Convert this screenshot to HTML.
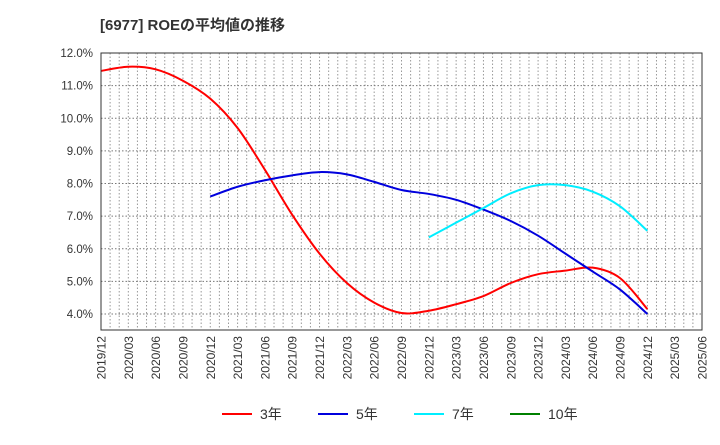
<!DOCTYPE html>
<html><head><meta charset="utf-8"><style>
body{margin:0;background:#fff;font-family:"Liberation Sans","Noto Sans CJK JP",sans-serif}
</style></head><body>
<svg width="720" height="440" xmlns="http://www.w3.org/2000/svg" font-family="Liberation Sans, Noto Sans CJK JP, sans-serif">
<text x="100" y="30" font-size="15" font-weight="bold" fill="#333">[6977]  ROEの平均値の推移</text>
<g id="grid"></g><g id="series"></g><g id="axes"></g>
<g id="legend"></g>
</svg>
<script>
const xLabels=["2019/12","2020/03","2020/06","2020/09","2020/12","2021/03","2021/06","2021/09","2021/12","2022/03","2022/06","2022/09","2022/12","2023/03","2023/06","2023/09","2023/12","2024/03","2024/06","2024/09","2024/12","2025/03","2025/06"];
const yTicks=[4,5,6,7,8,9,10,11,12];
const months3=[0,3,6,9,12,15,18,21,24,27,30,33,36,39,42,45,48,51,54,57,60];
const roe3=[11.45,11.58,11.5,11.15,10.6,9.7,8.42,7.04,5.85,4.95,4.35,4.03,4.1,4.3,4.55,4.95,5.22,5.33,5.42,5.1,4.15];
const months5=[12,15,18,21,24,27,30,33,36,39,42,45,48,51,54,57,60];
const roe5=[7.6,7.9,8.1,8.25,8.35,8.28,8.05,7.8,7.68,7.5,7.2,6.85,6.4,5.85,5.3,4.75,4.0];
const months7=[36,39,42,45,48,51,54,57,60];
const roe7=[6.35,6.8,7.25,7.7,7.95,7.95,7.75,7.3,6.55];
const L=101,R=702,T=53,B=330,NM=66;
const xs=m=>L+(R-L)*m/NM, ys=v=>314-(v-4)*32.625;
const NS="http://www.w3.org/2000/svg";
function mk(t,a,p){const e=document.createElementNS(NS,t);for(const k in a)e.setAttribute(k,a[k]);p.appendChild(e);return e;}
const grid=document.getElementById('grid'),axes=document.getElementById('axes'),ser=document.getElementById('series'),leg=document.getElementById('legend');
for(let m=1;m<NM;m++){const l=mk('line',{x1:xs(m),x2:xs(m),y1:T,y2:B,stroke:'#999','stroke-dasharray':'1.5,2','stroke-width':1},grid);

}
yTicks.forEach(v=>{const l=mk('line',{x1:L,x2:R,y1:ys(v),y2:ys(v),stroke:'#777','stroke-dasharray':'1.5,2'},grid);


const t=mk('text',{x:L-8,y:ys(v)+4,'text-anchor':'end','font-size':11.5,fill:'#333'},axes);t.textContent=v.toFixed(1)+'%';

});
const fr=mk('rect',{x:L,y:T,width:R-L,height:B-T,fill:'none',stroke:'#333'},axes);


xLabels.forEach((s,i)=>{const x=xs(i*3);const t=mk('text',{transform:`translate(${x+4.5},${B+6}) rotate(-90)`,'text-anchor':'end','font-size':12,fill:'#333'},axes);t.textContent=s;

});
function path(ms,vs){const p=ms.map((m,i)=>[xs(m),ys(vs[i])]);let d=`M${p[0][0]},${p[0][1]}`;
for(let i=0;i<p.length-1;i++){const p0=p[i-1]||p[i],p1=p[i],p2=p[i+1],p3=p[i+2]||p2;
d+=` C${p1[0]+(p2[0]-p0[0])/6},${p1[1]+(p2[1]-p0[1])/6} ${p2[0]-(p3[0]-p1[0])/6},${p2[1]-(p3[1]-p1[1])/6} ${p2[0]},${p2[1]}`;}return d;}
[[months3,roe3,'#ff0000','line-3yr'],[months5,roe5,'#0000dd','line-5yr'],[months7,roe7,'#00eeff','line-7yr']].forEach(([m,v,c,n])=>{
const e=mk('path',{d:path(m,v),fill:'none',stroke:c,'stroke-width':2},ser);

});
[['3年','#ff0000',222],['5年','#0000dd',318],['7年','#00eeff',414],['10年','#008000',510]].forEach(([s,c,x])=>{
const g=mk('g',{},leg);


mk('line',{x1:x,x2:x+30,y1:414,y2:414,stroke:c,'stroke-width':2},g);
const t=mk('text',{x:x+38,y:419,'font-size':14,fill:'#333'},g);t.textContent=s;});
</script>
</body></html>
